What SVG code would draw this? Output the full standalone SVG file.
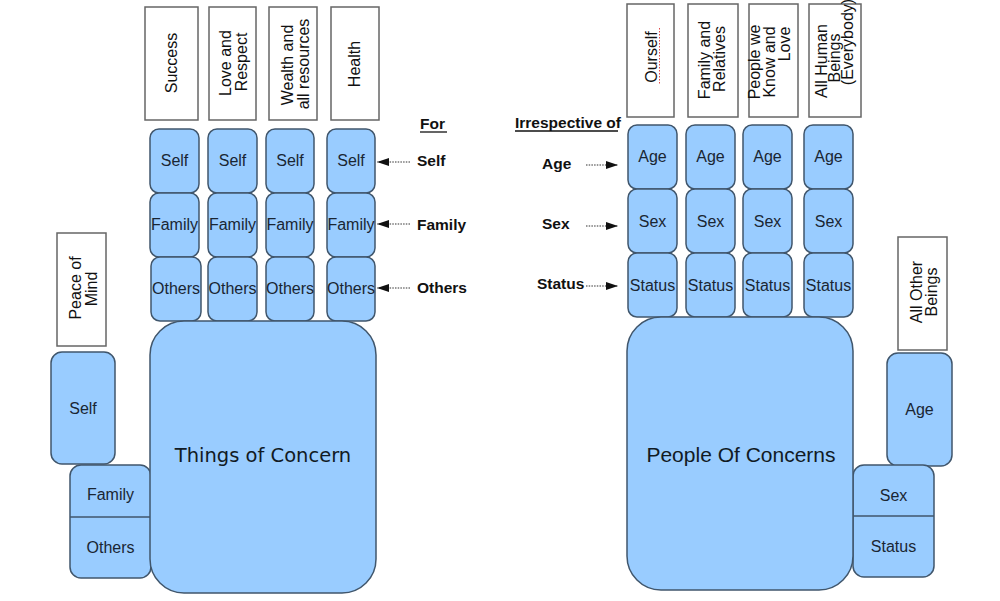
<svg xmlns="http://www.w3.org/2000/svg" width="1000" height="601" viewBox="0 0 1000 601">
<defs>
<style>
.b{fill:#99ccff;stroke:#40566c;stroke-width:1.5}
.lb{fill:#ffffff;stroke:#666666;stroke-width:1.5}
.t{font-family:"Liberation Sans",Arial,sans-serif;font-size:16px;fill:#1a2633;text-anchor:middle}
.r{font-family:"Liberation Sans",Arial,sans-serif;font-size:16px;fill:#111111;text-anchor:middle}
.k{font-family:"Liberation Sans",Arial,sans-serif;font-size:15.5px;font-weight:bold;fill:#111111}
.c{stroke:#333333;stroke-width:1.2;stroke-dasharray:1.5 1.2;fill:none}
</style>
<marker id="ah" viewBox="0 0 12 8" refX="12" refY="4" markerWidth="12" markerHeight="8" markerUnits="userSpaceOnUse" orient="auto">
<path d="M0,0 L12,4 L0,8 Z" fill="#111111"/>
</marker>
</defs>
<rect width="1000" height="601" fill="#ffffff"/>

<!-- Left hand: labels -->
<g id="lbl-success"><rect class="lb" x="145" y="7" width="53" height="113"/><text class="r" transform="translate(177,63) rotate(-90)">Success</text></g>
<g id="lbl-love"><rect class="lb" x="209" y="7" width="47" height="113"/><text class="r" transform="translate(231,63) rotate(-90)">Love and</text><text class="r" transform="translate(247,62) rotate(-90)">Respect</text></g>
<g id="lbl-wealth"><rect class="lb" x="269" y="7" width="48" height="113"/><text class="r" transform="translate(293,65) rotate(-90)">Wealth and</text><text class="r" transform="translate(309,64) rotate(-90)">all resources</text></g>
<g id="lbl-health"><rect class="lb" x="331" y="7" width="48" height="113"/><text class="r" transform="translate(360,64) rotate(-90)">Health</text></g>
<g id="lbl-peace"><rect class="lb" x="57" y="233" width="49" height="113"/><text class="r" transform="translate(81,288) rotate(-90)">Peace of</text><text class="r" transform="translate(97,289) rotate(-90)">Mind</text></g>

<!-- Left hand: fingers -->
<g id="l-c1">
<rect class="b" x="150" y="129" width="49" height="64" rx="9"/><text class="t" x="174.5" y="166">Self</text>
<rect class="b" x="150" y="193" width="49" height="64" rx="9"/><text class="t" x="174.5" y="230">Family</text>
<rect class="b" x="151" y="257" width="50" height="64" rx="9"/><text class="t" x="176" y="294">Others</text>
</g>
<g id="l-c2">
<rect class="b" x="208" y="129" width="49" height="64" rx="9"/><text class="t" x="232.5" y="166">Self</text>
<rect class="b" x="208" y="193" width="49" height="64" rx="9"/><text class="t" x="232.5" y="230">Family</text>
<rect class="b" x="208" y="257" width="49" height="64" rx="9"/><text class="t" x="232.5" y="294">Others</text>
</g>
<g id="l-c3">
<rect class="b" x="266" y="129" width="48" height="64" rx="9"/><text class="t" x="290" y="166">Self</text>
<rect class="b" x="266" y="193" width="48" height="64" rx="9"/><text class="t" x="290" y="230">Family</text>
<rect class="b" x="266" y="257" width="48" height="64" rx="9"/><text class="t" x="290" y="294">Others</text>
</g>
<g id="l-c4">
<rect class="b" x="327" y="129" width="48" height="64" rx="9"/><text class="t" x="351" y="166">Self</text>
<rect class="b" x="327" y="193" width="48" height="64" rx="9"/><text class="t" x="351" y="230">Family</text>
<rect class="b" x="327" y="257" width="48" height="64" rx="9"/><text class="t" x="351" y="294">Others</text>
</g>

<!-- Left thumb -->
<g id="l-thumb-self"><rect class="b" x="51" y="352" width="64" height="112" rx="11"/><text class="t" x="83" y="414">Self</text></g>
<g id="l-thumb-fo"><rect class="b" x="70" y="465" width="81" height="113" rx="11"/><line x1="70" y1="517" x2="151" y2="517" stroke="#40566c" stroke-width="1.5"/><text class="t" x="110.5" y="500">Family</text><text class="t" x="110.5" y="553">Others</text></g>

<!-- Left palm -->
<g id="l-palm"><rect class="b" x="150" y="321" width="226" height="272" rx="34"/><text x="263" y="462" text-anchor="middle" font-family="DejaVu Sans,sans-serif" font-size="19.5" fill="#111a24">Things of Concern</text></g>

<!-- Left side labels -->
<g id="l-keys">
<text class="k" x="420" y="129">For</text><line x1="420" y1="132" x2="447" y2="132" stroke="#111" stroke-width="1.3"/>
<text class="k" x="417" y="166">Self</text>
<text class="k" x="417" y="230">Family</text>
<text class="k" x="417" y="293">Others</text>
</g>

<!-- Right hand: labels -->
<g id="lbl-ourself"><rect class="lb" x="627" y="4" width="47" height="113"/><text class="r" font-size="17" transform="translate(657,57) rotate(-90)">Ourself</text><line x1="659.5" y1="28" x2="659.5" y2="85" stroke="#e04848" stroke-width="1" stroke-dasharray="1.5 1.5"/></g>
<g id="lbl-family"><rect class="lb" x="688" y="4" width="50" height="113"/><text class="r" transform="translate(710,60) rotate(-90)">Family and</text><text class="r" transform="translate(725,59) rotate(-90)">Relatives</text></g>
<g id="lbl-people"><rect class="lb" x="749" y="4" width="49" height="113"/><text class="r" font-size="15" transform="translate(760,62) rotate(-90)">People we</text><text class="r" font-size="15" transform="translate(775,62) rotate(-90)">Know and</text><text class="r" font-size="15" transform="translate(790,44) rotate(-90)">Love</text></g>
<g id="lbl-all"><rect class="lb" x="809" y="4" width="52" height="113"/><text class="r" font-size="15" transform="translate(827,61) rotate(-90)">All Human</text><text class="r" font-size="15" transform="translate(840,58) rotate(-90)">Beings</text><text class="r" font-size="14" transform="translate(853,42) rotate(-90)">(Everybody)</text></g>
<g id="lbl-other"><rect class="lb" x="898" y="237" width="49" height="113"/><text class="r" transform="translate(922,292) rotate(-90)">All Other</text><text class="r" transform="translate(937,292) rotate(-90)">Beings</text></g>

<!-- Right hand: fingers -->
<g id="r-c1">
<rect class="b" x="628" y="125" width="49" height="64" rx="9"/><text class="t" x="652.5" y="162">Age</text>
<rect class="b" x="628" y="189" width="49" height="64" rx="9"/><text class="t" x="652.5" y="227">Sex</text>
<rect class="b" x="628" y="253" width="49" height="64" rx="9"/><text class="t" x="652.5" y="291">Status</text>
</g>
<g id="r-c2">
<rect class="b" x="686" y="125" width="49" height="64" rx="9"/><text class="t" x="710.5" y="162">Age</text>
<rect class="b" x="686" y="189" width="49" height="64" rx="9"/><text class="t" x="710.5" y="227">Sex</text>
<rect class="b" x="686" y="253" width="49" height="64" rx="9"/><text class="t" x="710.5" y="291">Status</text>
</g>
<g id="r-c3">
<rect class="b" x="743" y="125" width="49" height="64" rx="9"/><text class="t" x="767.5" y="162">Age</text>
<rect class="b" x="743" y="189" width="49" height="64" rx="9"/><text class="t" x="767.5" y="227">Sex</text>
<rect class="b" x="743" y="253" width="49" height="64" rx="9"/><text class="t" x="767.5" y="291">Status</text>
</g>
<g id="r-c4">
<rect class="b" x="804" y="125" width="49" height="64" rx="9"/><text class="t" x="828.5" y="162">Age</text>
<rect class="b" x="804" y="189" width="49" height="64" rx="9"/><text class="t" x="828.5" y="227">Sex</text>
<rect class="b" x="804" y="253" width="49" height="64" rx="9"/><text class="t" x="828.5" y="291">Status</text>
</g>

<!-- Right thumb -->
<g id="r-thumb-age"><rect class="b" x="887" y="353" width="65" height="113" rx="11"/><text class="t" x="919.5" y="415">Age</text></g>
<g id="r-thumb-ss"><rect class="b" x="853" y="465" width="81" height="112" rx="11"/><line x1="853" y1="516" x2="934" y2="516" stroke="#40566c" stroke-width="1.5"/><text class="t" x="893.5" y="501">Sex</text><text class="t" x="893.5" y="552">Status</text></g>

<!-- Right palm -->
<g id="r-palm"><rect class="b" x="627" y="317" width="226" height="273" rx="34"/><text x="741" y="462" text-anchor="middle" font-family="Liberation Sans,Arial,sans-serif" font-size="21" fill="#111a24">People Of Concerns</text></g>

<!-- Right side labels -->
<g id="r-keys">
<text class="k" x="515" y="128" font-size="15">Irrespective of</text><line x1="515" y1="131" x2="618" y2="131" stroke="#111" stroke-width="1.3"/>
<text class="k" x="542" y="169">Age</text>
<text class="k" x="542" y="229">Sex</text>
<text class="k" x="537" y="289">Status</text>
</g>

<!-- Connectors -->
<g id="connectors">
<line class="c" x1="410" y1="162" x2="377" y2="162" marker-end="url(#ah)"/>
<line class="c" x1="410" y1="224" x2="377" y2="224" marker-end="url(#ah)"/>
<line class="c" x1="410" y1="288" x2="377" y2="288" marker-end="url(#ah)"/>
<line class="c" x1="586" y1="165" x2="618" y2="165" marker-end="url(#ah)"/>
<line class="c" x1="586" y1="226" x2="618" y2="226" marker-end="url(#ah)"/>
<line class="c" x1="586" y1="286" x2="618" y2="286" marker-end="url(#ah)"/>
</g>
</svg>
